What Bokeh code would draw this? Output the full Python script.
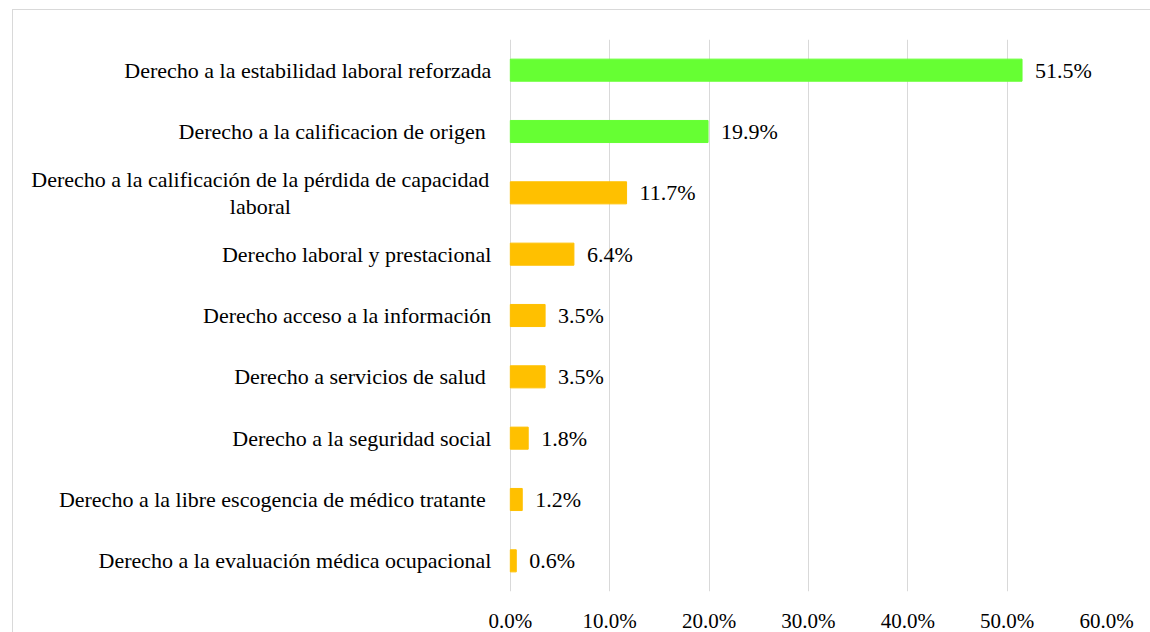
from bokeh.plotting import figure
from bokeh.models import FactorRange, ColumnDataSource, FixedTicker, PrintfTickFormatter
from bokeh.embed import file_html
from bokeh.resources import INLINE
from bokeh.core.properties import value

categories = [
    "Derecho a la estabilidad laboral reforzada",
    "Derecho a la calificacion de origen ",
    "Derecho a la calificación de la pérdida de capacidad\nlaboral",
    "Derecho laboral y prestacional",
    "Derecho acceso a la información",
    "Derecho a servicios de salud ",
    "Derecho a la seguridad social",
    "Derecho a la libre escogencia de médico tratante ",
    "Derecho a la evaluación médica ocupacional",
]
values = [51.5, 19.9, 11.7, 6.4, 3.5, 3.5, 1.8, 1.2, 0.6]
labels = ["51.5%", "19.9%", "11.7%", "6.4%", "3.5%", "3.5%", "1.8%", "1.2%", "0.6%"]
colors = ["#66FF33", "#66FF33", "#FFC000", "#FFC000", "#FFC000", "#FFC000", "#FFC000", "#FFC000", "#FFC000"]
ticks = [0, 10, 20, 30, 40, 50, 60]

FONT = "Liberation Serif"

src = ColumnDataSource(dict(cat=categories, val=values, lab=labels, col=colors))

# the frame extends to the left so that the category labels (drawn as text) are not clipped
p = figure(width=1139, height=625, y_range=FactorRange(factors=categories[::-1]),
           x_range=(-50, 60), output_backend="svg", toolbar_location=None,
           min_border_left=0, min_border_right=46, min_border_top=29, min_border_bottom=34)
p.margin = (9, 0, 0, 12)
p.styles = {"border": "1px solid #d9d9d9", "box-sizing": "border-box"}
p.outline_line_color = None
p.background_fill_color = "white"

p.hbar(y="cat", left=0, right="val", height=0.36, color="col", source=src)

# value labels
p.text(x="val", y="cat", text="lab", source=src, x_offset=13, text_baseline="middle",
       text_align="left", text_font=value(FONT), text_font_size="22px", text_color="#000000")

# category labels
single = [c for c in categories if "\n" not in c]
multi = [c for c in categories if "\n" in c]
s1 = ColumnDataSource(dict(cat=single, zero=[0] * len(single)))
s2 = ColumnDataSource(dict(cat=multi, zero=[0] * len(multi)))
p.text(x="zero", y="cat", text="cat", source=s1, x_offset=-19, text_align="right",
       text_baseline="middle", text_font=value(FONT), text_font_size="22px", text_color="#000000")
p.text(x="zero", y="cat", text="cat", source=s2, x_offset=-250, text_align="center",
       text_baseline="middle", text_font=value(FONT), text_font_size="22px", text_color="#000000",
       text_line_height=1.08)

p.yaxis.visible = False
p.ygrid.visible = False
p.xgrid.grid_line_color = "#d9d9d9"
p.xgrid.grid_line_width = 1
p.xaxis.ticker = FixedTicker(ticks=ticks)
p.xgrid.ticker = FixedTicker(ticks=ticks)
p.xaxis.formatter = PrintfTickFormatter(format="%.1f%%")
p.xaxis.axis_line_color = None
p.xaxis.major_tick_line_color = None
p.xaxis.minor_tick_line_color = None
p.xaxis.major_tick_out = 0
p.xaxis.major_label_standoff = 17
p.xaxis.major_label_text_font = FONT
p.xaxis.major_label_text_font_size = "21px"
p.xaxis.major_label_text_color = "#000000"

open("out.html", "w").write(file_html(p, INLINE))
